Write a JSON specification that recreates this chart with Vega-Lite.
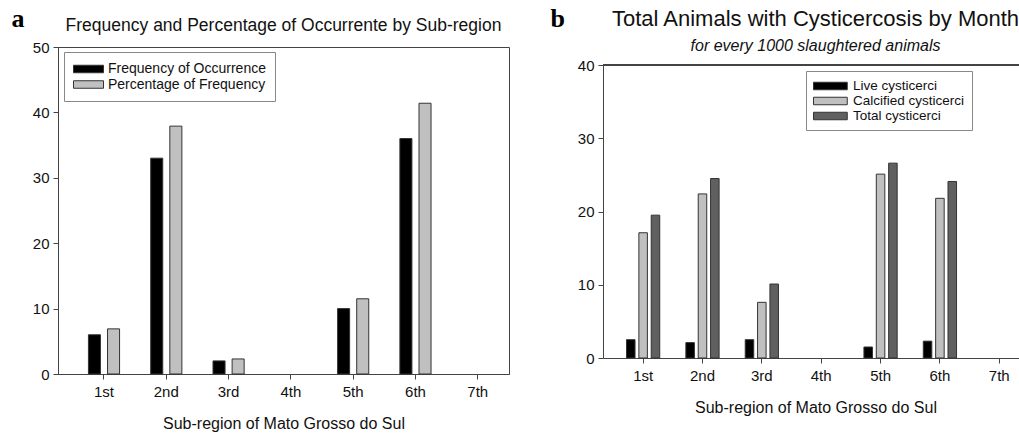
{
  "$schema": "https://vega.github.io/schema/vega-lite/v6.json",
  "background": "white",
  "padding": {"left": 10, "top": 4, "right": 0, "bottom": 2},
  "spacing": 40,
  "resolve": {"scale": {"color": "independent", "xOffset": "independent", "x": "independent", "y": "independent"}, "legend": {"color": "independent"}},
  "config": {
    "font": "Liberation Sans",
    "axis": {
      "domainColor": "#444",
      "tickColor": "#444",
      "tickSize": 5,
      "labelColor": "#111",
      "labelFontSize": 15,
      "labelPadding": 4,
      "titleColor": "#111",
      "titleFontSize": 16,
      "titleFontWeight": "normal",
      "grid": false
    },
    "legend": {
      "orient": "none",
      "title": null,
      "strokeColor": "#888",
      "fillColor": "white",
      "cornerRadius": 0,
      "symbolStrokeColor": "#333",
      "symbolStrokeWidth": 1,
      "labelColor": "#111"
    }
  },
  "hconcat": [
    {
      "width": 451,
      "height": 327,
      "view": {"stroke": "#444", "strokeWidth": 1},
      "title": {"text": "Frequency and Percentage of Occurrente by Sub-region", "frame": "group", "fontSize": 17.5, "fontWeight": "normal", "color": "#111", "offset": -29, "anchor": "middle"},
      "data": {"values": [
        {"region": "1st", "series": "Frequency of Occurrence", "value": 6},
        {"region": "1st", "series": "Percentage of Frequency", "value": 6.9},
        {"region": "2nd", "series": "Frequency of Occurrence", "value": 33},
        {"region": "2nd", "series": "Percentage of Frequency", "value": 37.9},
        {"region": "3rd", "series": "Frequency of Occurrence", "value": 2},
        {"region": "3rd", "series": "Percentage of Frequency", "value": 2.3},
        {"region": "5th", "series": "Frequency of Occurrence", "value": 10},
        {"region": "5th", "series": "Percentage of Frequency", "value": 11.5},
        {"region": "6th", "series": "Frequency of Occurrence", "value": 36},
        {"region": "6th", "series": "Percentage of Frequency", "value": 41.4}
      ]},
      "mark": {"type": "bar", "stroke": "#333", "strokeWidth": 1},
      "encoding": {
        "x": {"field": "region", "type": "nominal",
          "scale": {"domain": ["1st", "2nd", "3rd", "4th", "5th", "6th", "7th"], "paddingInner": 0.5, "paddingOuter": 0.37, "align": 0.66},
          "axis": {"title": "Sub-region of Mato Grosso do Sul", "labelAngle": 0, "labelPadding": 5, "titlePadding": 16}},
        "xOffset": {"field": "series", "type": "nominal", "scale": {"domain": ["Frequency of Occurrence", "Percentage of Frequency"], "paddingInner": 0.37, "paddingOuter": 0}},
        "y": {"field": "value", "type": "quantitative",
          "scale": {"domain": [0, 50], "nice": false},
          "axis": {"values": [0, 10, 20, 30, 40, 50], "title": "a", "titleAngle": 0, "titleFont": "Liberation Serif", "titleFontWeight": "bold", "titleFontSize": 26, "titleColor": "#000", "titleAlign": "left", "titleBaseline": "alphabetic", "titleX": -47, "titleY": -21}},
        "color": {"field": "series", "type": "nominal",
          "scale": {"domain": ["Frequency of Occurrence", "Percentage of Frequency"], "range": ["#000000", "#c0c0c0"]},
          "legend": {"legendX": 6, "legendY": 5, "padding": 9, "symbolType": "M-1,-0.5H3V0.5H-1Z", "symbolSize": 225, "labelFontSize": 14, "labelOffset": 19, "rowPadding": 0.5}}
      }
    },
    {
      "width": 425,
      "height": 311,
      "view": {"stroke": null},
      "title": {"text": "Total Animals with Cysticercosis by Month", "subtitle": "for every 1000 slaughtered animals", "frame": "group", "fontSize": 22, "fontWeight": "normal", "color": "#111", "subtitleFontSize": 16, "subtitleFontStyle": "italic", "subtitleColor": "#111", "subtitlePadding": 7, "offset": -50, "anchor": "middle"},
      "data": {"values": [
        {"region": "1st", "series": "Live cysticerci", "value": 2.5},
        {"region": "1st", "series": "Calcified cysticerci", "value": 17.1},
        {"region": "1st", "series": "Total cysticerci", "value": 19.5},
        {"region": "2nd", "series": "Live cysticerci", "value": 2.1},
        {"region": "2nd", "series": "Calcified cysticerci", "value": 22.4},
        {"region": "2nd", "series": "Total cysticerci", "value": 24.5},
        {"region": "3rd", "series": "Live cysticerci", "value": 2.5},
        {"region": "3rd", "series": "Calcified cysticerci", "value": 7.6},
        {"region": "3rd", "series": "Total cysticerci", "value": 10.1},
        {"region": "5th", "series": "Live cysticerci", "value": 1.5},
        {"region": "5th", "series": "Calcified cysticerci", "value": 25.1},
        {"region": "5th", "series": "Total cysticerci", "value": 26.6},
        {"region": "6th", "series": "Live cysticerci", "value": 2.3},
        {"region": "6th", "series": "Calcified cysticerci", "value": 21.8},
        {"region": "6th", "series": "Total cysticerci", "value": 24.1}
      ]},
      "layer": [
        {
          "mark": {"type": "bar", "stroke": "#333", "strokeWidth": 1},
          "encoding": {
            "x": {"field": "region", "type": "nominal",
              "scale": {"domain": ["1st", "2nd", "3rd", "4th", "5th", "6th", "7th"], "paddingInner": 0.44, "paddingOuter": 0.3, "align": 0.66},
              "axis": {"title": "Sub-region of Mato Grosso do Sul", "labelAngle": 0, "labelPadding": 5, "titlePadding": 16}},
            "xOffset": {"field": "series", "type": "nominal", "scale": {"domain": ["Live cysticerci", "Calcified cysticerci", "Total cysticerci"], "paddingInner": 0.31, "paddingOuter": 0}},
            "y": {"field": "value", "type": "quantitative",
              "scale": {"domain": [0, 40], "nice": false, "range": [311, 18]},
              "axis": {"values": [0, 10, 20, 30, 40], "title": "b", "titleAngle": 0, "titleFont": "Liberation Serif", "titleFontWeight": "bold", "titleFontSize": 26, "titleColor": "#000", "titleAlign": "left", "titleBaseline": "alphabetic", "titleX": -53, "titleY": -21}},
            "color": {"field": "series", "type": "nominal",
              "scale": {"domain": ["Live cysticerci", "Calcified cysticerci", "Total cysticerci"], "range": ["#000000", "#c0c0c0", "#606060"]},
              "legend": {"legendX": 203, "legendY": 24, "padding": 7, "symbolType": "M-1,-0.5H3.5V0.5H-1Z", "symbolSize": 225, "labelFontSize": 13.5, "labelOffset": 24, "rowPadding": 0}}
          }
        },
        {
          "mark": {"type": "rule", "color": "#444", "strokeWidth": 1},
          "encoding": {"y": {"datum": 40}}
        }
      ]
    }
  ]
}
